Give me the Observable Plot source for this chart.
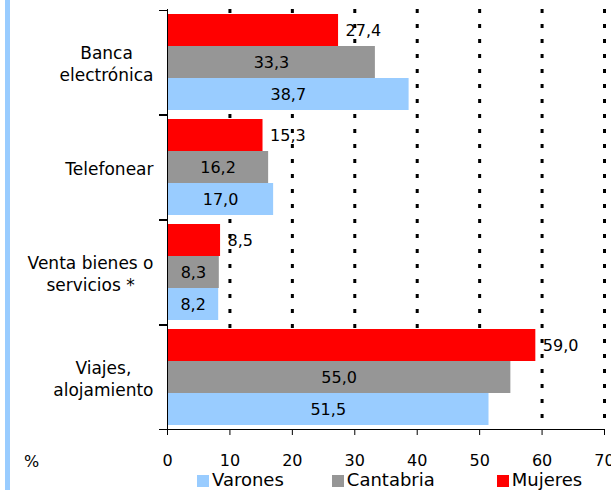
<!DOCTYPE html>
<html><head><meta charset="utf-8">
<script src="https://cdn.jsdelivr.net/npm/d3@7"></script>
<script src="https://cdn.jsdelivr.net/npm/@observablehq/plot@0.6"></script>
<style>
body{margin:0;background:#fff;font-family:"DejaVu Sans",sans-serif;}
#wrap{position:relative;width:611px;height:490px;overflow:hidden;background:#fff}
#stripe{position:absolute;left:5px;top:0;width:5px;height:490px;background:#99ccff}
#chart{position:absolute;left:0;top:0}
#pct{position:absolute;left:24px;top:452px;font-size:16px;color:#000}
#legend{position:absolute;left:197px;top:469px;display:flex;font-size:18px;line-height:21px;color:#000}
#legend span.item:nth-child(2){margin-left:48px}
#legend span.item:nth-child(3){margin-left:62px}
.sw{display:inline-block;width:12px;height:12px;margin-right:3px;vertical-align:-1px}
</style></head><body>
<div id="wrap"><div id="stripe"></div><div id="chart"></div><div id="pct">%</div><div id="legend"></div></div>
<script>
const categories = ["Banca electrónica", "Telefonear", "Venta bienes o servicios *", "Viajes, alojamiento"];
const categoryLines = [["Banca", "electrónica"], ["Telefonear"], ["Venta bienes o", "servicios *"], ["Viajes,", "alojamiento"]];
const series = ["Mujeres", "Cantabria", "Varones"];
const legendOrder = ["Varones", "Cantabria", "Mujeres"];
const mujeres = [27.4, 15.3, 8.5, 59.0];
const cantabria = [33.3, 16.2, 8.3, 55.0];
const varones = [38.7, 17.0, 8.2, 51.5];
const xTicks = [0, 10, 20, 30, 40, 50, 60, 70];
const gridTicks = [10, 20, 30, 40, 50, 60, 70];
const seriesColors = ["#ff0000", "#969696", "#99ccff"];

const valuesBySeries = {Mujeres: mujeres, Cantabria: cantabria, Varones: varones};
const table = [];
categories.forEach((c, i) => series.forEach(s => table.push({category: c, series: s, value: valuesBySeries[s][i], lines: categoryLines[i]})));
const fmt = v => v.toFixed(1).replace(".", ",");
const FONT = "DejaVu Sans";
const LABEL_SIZE = 17;
const ctx = document.createElement("canvas").getContext("2d");
ctx.font = `${LABEL_SIZE}px "${FONT}"`;
const outerPad = 0.13;

const labelMarks = categories.map((c, i) => {
  const w = d3.max(categoryLines[i], t => ctx.measureText(t).width);
  return Plot.text(table, {
    filter: d => d.category === c && d.series === "Cantabria",
    y: "series", frameAnchor: "left", text: d => d.lines.join("\n"),
    textAnchor: "middle", dx: -(14 + w / 2), lineHeight: 1.3, fill: "#000", fontSize: LABEL_SIZE
  });
});

const boundaryTicks = (index, scales, values, dims) => {
  const g = d3.create("svg:g").attr("stroke", "#000").attr("stroke-width", 1);
  const y = scales.y;
  const bw = y.bandwidth();
  const top = y(series[0]) - outerPad * bw;
  const bottom = y(series[series.length - 1]) + bw + outerPad * bw;
  for (const yy of [top, bottom]) {
    g.append("line").attr("x1", dims.marginLeft - 8).attr("x2", dims.marginLeft)
      .attr("y1", Math.round(yy) + 0.5).attr("y2", Math.round(yy) + 0.5);
  }
  return g.node();
};

const chart = Plot.plot({
  width: 611, height: 470,
  marginLeft: 167, marginRight: 7, marginTop: 7, marginBottom: 40,
  style: {fontFamily: FONT, fontSize: "16px", color: "#000", background: "transparent", overflow: "visible"},
  x: {domain: [0, 70], ticks: xTicks, tickSize: 6, tickPadding: 19, label: null, line: true, tickFormat: d => String(d)},
  y: {domain: series, axis: null, paddingInner: 0, paddingOuter: outerPad},
  fy: {domain: categories, axis: null, padding: 0},
  color: {domain: series, range: seriesColors},
  facet: {data: table, y: "category"},
  marks: [
    Plot.text(table, {filter: d => d.series === "Mujeres", x: "value", y: "series", text: d => fmt(d.value), textAnchor: "start", dx: 7, fill: "#000", fontSize: 16}),
    Plot.ruleX(gridTicks, {stroke: "#000", strokeWidth: 3, strokeDasharray: "4,11"}),
    Plot.barX(table, {x: "value", y: "series", fill: "series"}),
    Plot.text(table, {filter: d => d.series !== "Mujeres", x: d => d.value / 2, y: "series", text: d => fmt(d.value), textAnchor: "middle", fill: "#000", fontSize: 16}),
    Plot.ruleX([0], {stroke: "#000", strokeWidth: 1}),
    boundaryTicks,
    ...labelMarks
  ]
});
document.getElementById("chart").appendChild(chart);

const legend = document.getElementById("legend");
legendOrder.forEach(s => {
  const item = document.createElement("span");
  item.className = "item";
  const sw = document.createElement("span");
  sw.className = "sw";
  sw.style.background = seriesColors[series.indexOf(s)];
  item.appendChild(sw);
  item.appendChild(document.createTextNode(s));
  legend.appendChild(item);
});
</script>
</body></html>
